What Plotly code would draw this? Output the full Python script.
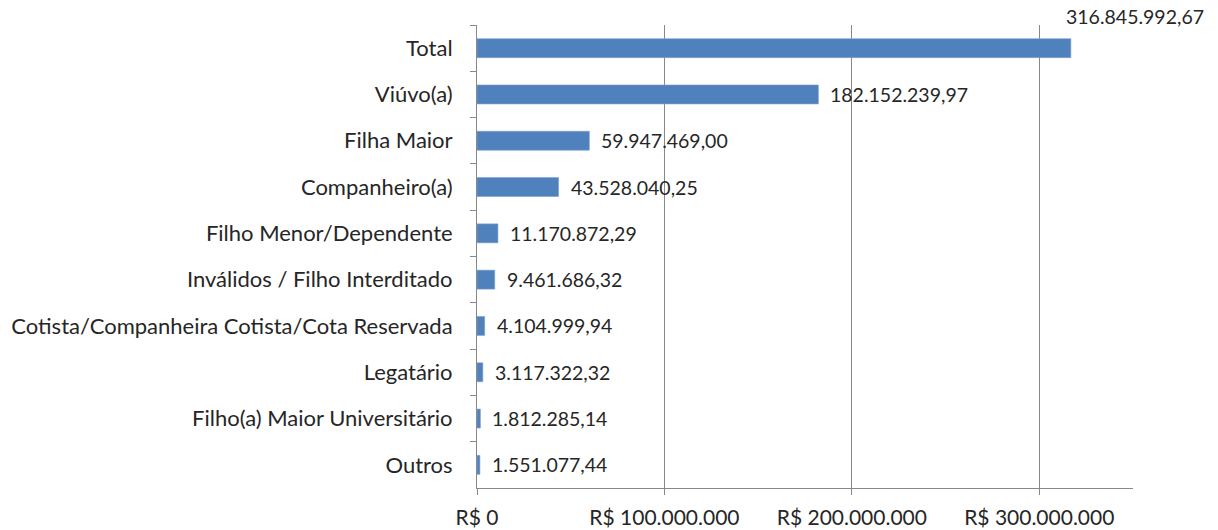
import plotly.graph_objects as go

categories = ["Total", "Viúvo(a)", "Filha Maior", "Companheiro(a)", "Filho Menor/Dependente",
              "Inválidos / Filho Interditado", "Cotista/Companheira Cotista/Cota Reservada",
              "Legatário", "Filho(a) Maior Universitário", "Outros"]
values = [316845992.67, 182152239.97, 59947469.00, 43528040.25, 11170872.29,
          9461686.32, 4104999.94, 3117322.32, 1812285.14, 1551077.44]
x_ticks = [0, 100000000, 200000000, 300000000]

FONT = "Lato"
TXT = "#262626"
GRID = "#888888"


def br(v, dec=2):
    s = f"{v:,.{dec}f}"
    return s.replace(",", "X").replace(".", ",").replace("X", ".")


x_ticktext = ["R$ " + br(t, 0) for t in x_ticks]

fig = go.Figure(go.Bar(
    x=values, y=categories, orientation="h",
    marker=dict(color="#4F81BD", line=dict(color="#7FA3D3", width=0.6)),
    width=0.41, hoverinfo="skip",
))

annotations = []
for i, (c, v) in enumerate(zip(categories, values)):
    if i == 0:
        annotations.append(dict(x=v, y=c, xref="x", yref="y", text=br(v), showarrow=False,
                                xanchor="left", yanchor="middle", xshift=-7, yshift=32,
                                font=dict(family=FONT, size=19.5, color=TXT)))
    else:
        annotations.append(dict(x=v, y=c, xref="x", yref="y", text=br(v), showarrow=False,
                                xanchor="left", yanchor="middle", xshift=10, yshift=0,
                                font=dict(family=FONT, size=19.5, color=TXT)))

fig.update_layout(
    width=1218, height=530,
    margin=dict(l=477, r=85, t=25, b=42),
    paper_bgcolor="white", plot_bgcolor="white",
    showlegend=False,
    font=dict(family=FONT, size=20, color=TXT),
    annotations=annotations,
    xaxis=dict(range=[0, 350000000], tickvals=x_ticks, ticktext=x_ticktext,
               showgrid=True, gridcolor=GRID, gridwidth=1, zeroline=False,
               showline=True, linecolor=GRID, linewidth=1,
               ticks="outside", ticklen=6, tickcolor=GRID,
               tickfont=dict(family=FONT, size=21, color=TXT), ticklabelstandoff=5,
               automargin=False, fixedrange=True),
    yaxis=dict(categoryorder="array", categoryarray=categories, autorange="reversed",
               showline=True, linecolor=GRID, linewidth=1, showgrid=False,
               ticks="outside", ticklen=6, tickcolor=GRID, tickson="boundaries",
               tickfont=dict(family=FONT, size=22, color=TXT), ticklabelstandoff=19,
               automargin=False, fixedrange=True),
)

fig.write_html("out.html", config={"displayModeBar": False, "staticPlot": True},
               post_script="document.body.style.margin='0';document.body.style.overflow='hidden';")
